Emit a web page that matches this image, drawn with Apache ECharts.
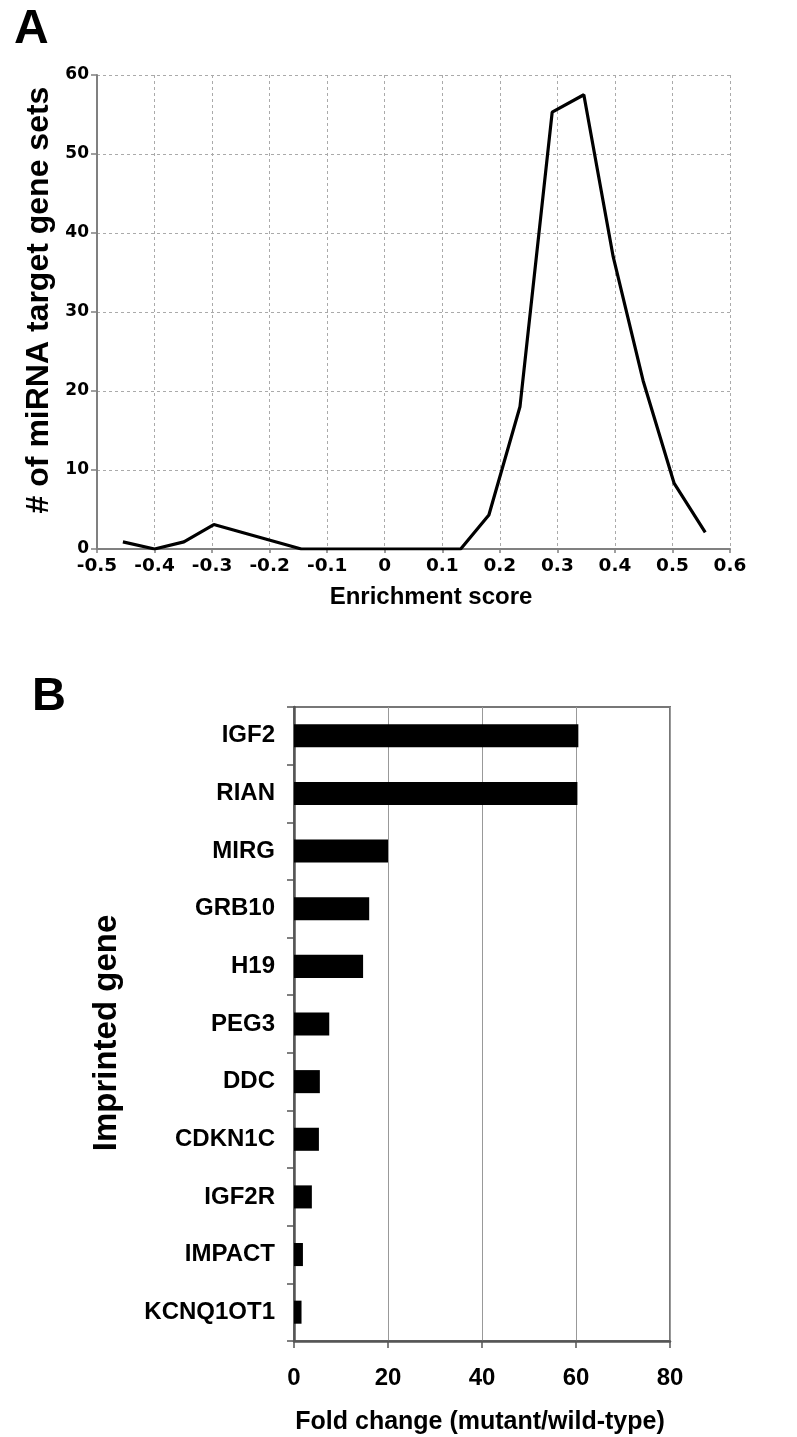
<!DOCTYPE html>
<html>
<head>
<meta charset="utf-8">
<script src="https://cdn.jsdelivr.net/npm/echarts@6/dist/echarts.min.js"></script>
<style>
html,body{margin:0;padding:0;background:#fff;}
#chart{width:797px;height:1437px;}
</style>
</head>
<body>
<div id="chart"></div>
<script>
// Panel A: enrichment score distribution
var enrichX = [-0.455, -0.400, -0.349, -0.297, -0.145, 0.132, 0.181, 0.235, 0.291, 0.346, 0.397, 0.449, 0.503, 0.557];
var geneSetCounts = [0.9, 0, 0.9, 3.1, 0, 0, 4.3, 18, 55.3, 57.5, 37, 21.3, 8.3, 2.1];

// Panel B: imprinted genes fold change
var genes = ['IGF2', 'RIAN', 'MIRG', 'GRB10', 'H19', 'PEG3', 'DDC', 'CDKN1C', 'IGF2R', 'IMPACT', 'KCNQ1OT1'];
var foldChange = [60.5, 60.3, 20.0, 16.0, 14.7, 7.5, 5.5, 5.3, 3.8, 1.9, 1.6];

var titleA_X = 'Enrichment score';
var titleA_Y = '# of miRNA target gene sets';
var titleB_X = 'Fold change (mutant/wild-type)';
var titleB_Y = 'Imprinted gene';

var lineData = enrichX.map(function (x, i) { return [x, geneSetCounts[i]]; });

var chart = echarts.init(document.getElementById('chart'), null, {renderer: 'canvas'});
var boldArial = 'Liberation Sans, Arial, sans-serif';

chart.setOption({
  backgroundColor: '#fff',
  animation: false,
  grid: [
    {left: 97, top: 75, width: 633, height: 474, containLabel: false},
    {left: 294, top: 707, width: 376, height: 634, containLabel: false,
     show: true, borderColor: '#777', borderWidth: 2, backgroundColor: 'transparent'}
  ],
  xAxis: [
    {
      gridIndex: 0, type: 'value', min: -0.5, max: 0.6, interval: 0.1,
      axisLine: {show: true, onZero: false, lineStyle: {color: '#808080', width: 2}},
      axisTick: {show: true, length: 4, lineStyle: {color: '#808080', width: 1.5}},
      axisLabel: {
        margin: 8, color: '#000', fontFamily: 'DejaVu Sans', fontWeight: 'bold', fontSize: 18.5,
        formatter: function (v) { var s = (+v).toFixed(1); if (s === '0.0' || s === '-0.0') return '0'; return s; }
      },
      splitLine: {show: true, lineStyle: {color: '#aaa', width: 1, type: [3, 3]}}
    },
    {
      gridIndex: 1, type: 'value', min: 0, max: 80, interval: 20,
      axisLine: {show: true, onZero: false, lineStyle: {color: '#555', width: 2.5}},
      axisTick: {show: true, length: 7, lineStyle: {color: '#555', width: 1.5}},
      axisLabel: {margin: 25, color: '#000', fontFamily: boldArial, fontWeight: 'bold', fontSize: 24},
      splitLine: {show: true, lineStyle: {color: '#999', width: 1}}
    }
  ],
  yAxis: [
    {
      gridIndex: 0, type: 'value', min: 0, max: 60, interval: 10,
      axisLine: {show: true, onZero: false, lineStyle: {color: '#808080', width: 2}},
      axisTick: {show: true, length: 6, lineStyle: {color: '#808080', width: 1.5}},
      axisLabel: {margin: 8, color: '#000', fontFamily: 'DejaVu Sans', fontWeight: 'bold', fontSize: 17},
      splitLine: {show: true, lineStyle: {color: '#aaa', width: 1, type: [3, 3]}}
    },
    {
      gridIndex: 1, type: 'category', data: genes, inverse: true,
      axisLine: {show: true, onZero: false, lineStyle: {color: '#555', width: 2.5}},
      axisTick: {show: true, length: 7, lineStyle: {color: '#555', width: 1.5}},
      axisLabel: {margin: 19, color: '#000', fontFamily: boldArial, fontWeight: 'bold', fontSize: 24},
      splitLine: {show: false}
    }
  ],
  series: [
    {
      type: 'line', xAxisIndex: 0, yAxisIndex: 0, data: lineData,
      symbol: 'none', lineStyle: {color: '#000', width: 3.2}, z: 5
    },
    {
      type: 'bar', xAxisIndex: 1, yAxisIndex: 1, data: foldChange,
      barWidth: '40%', itemStyle: {color: '#000'}, z: 5
    }
  ],
  graphic: [
    {type: 'text', x: 14, y: 6, style: {text: 'A', fill: '#000', font: 'bold 48px ' + boldArial}},
    {type: 'text', x: 32, y: 674, style: {text: 'B', fill: '#000', font: 'bold 47px ' + boldArial}},
    {type: 'text', x: 431, y: 597, style: {text: titleA_X, fill: '#000', align: 'center', verticalAlign: 'middle', font: 'bold 24px ' + boldArial}},
    {type: 'text', x: 39, y: 300, rotation: Math.PI / 2, style: {text: titleA_Y, fill: '#000', align: 'center', verticalAlign: 'middle', font: 'bold 32px ' + boldArial}},
    {type: 'text', x: 480, y: 1422, style: {text: titleB_X, fill: '#000', align: 'center', verticalAlign: 'middle', font: 'bold 25px ' + boldArial}},
    {type: 'text', x: 107, y: 1033, rotation: Math.PI / 2, style: {text: titleB_Y, fill: '#000', align: 'center', verticalAlign: 'middle', font: 'bold 33px ' + boldArial}}
  ]
});
</script>
</body>
</html>
